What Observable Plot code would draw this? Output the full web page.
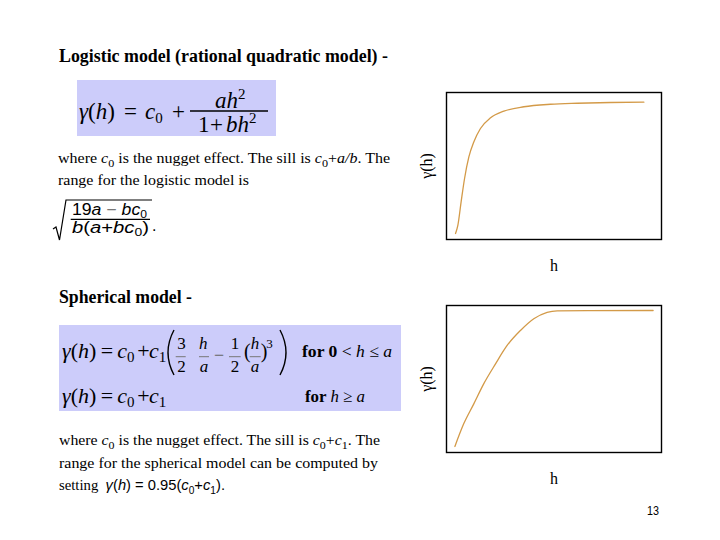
<!DOCTYPE html>
<html><head><meta charset="utf-8">
<script src="https://cdn.jsdelivr.net/npm/d3@7"></script>
<script src="https://cdn.jsdelivr.net/npm/@observablehq/plot@0.6"></script>
<style>
html,body{margin:0;padding:0;background:#fff;}
#page{position:relative;width:720px;height:540px;overflow:hidden;background:#fff;}
#slide{position:absolute;left:0;top:0;}
#slide text{white-space:pre;}
.chart{position:absolute;}
</style></head><body>
<div id="page"><svg id="slide" width="720" height="540"></svg>
<div class="chart" id="c1" style="left:410px;top:85px"></div>
<div class="chart" id="c2" style="left:410px;top:298px"></div>
</div>
<script>
// ---- data ----
const logisticH     = [4.2, 5.3, 6.8, 8.4, 10.4, 12.7, 15.8, 20.5, 26.7, 36.0, 48.4, 60.8, 76.3, 91.8];
const logisticGamma = [4.1, 9.8, 25.6, 41.5, 56.2, 66.4, 75.5, 82.8, 87.3, 90.3, 92.0, 92.7, 93.2, 93.4];
const sphericalH     = [3.9, 8.0, 12.7, 17.3, 22.8, 28.2, 34.4, 40.6, 46.8, 51.5, 96.1];
const sphericalGamma = [4.1, 19.5, 33.1, 46.7, 60.3, 72.8, 83.0, 91.0, 95.4, 96.4, 96.6];
const xDomain = [0, 100];
const yDomain = [0, 100];
const xLabel = "h";
const yLabel = "γ(h)";
const pageNumber = "13";

const SERIF = "'Liberation Serif','Times New Roman',serif";
const SANS = "'Liberation Sans',Arial,sans-serif";
const curveColor = "#d39a48";

// ---- slide text (typography) ----
const NS = "http://www.w3.org/2000/svg";
const slide = document.getElementById("slide");
function el(name, attrs, parent = slide) {
  const e = document.createElementNS(NS, name);
  for (const k in attrs) e.setAttribute(k, attrs[k]);
  parent.appendChild(e);
  return e;
}
function text(x, y, parts, opts = {}) {
  const t = el("text", {x, y, "font-family": opts.family || SERIF, "font-size": opts.size || 14.5,
    "font-weight": opts.weight || "normal", fill: opts.fill || "#000"});
  if (opts.width) { t.setAttribute("textLength", opts.width); t.setAttribute("lengthAdjust", "spacingAndGlyphs"); }
  let shift = 0;
  for (const p of parts) {
    const part = typeof p === "string" ? {t: p} : p;
    const s = el("tspan", {}, t);
    const target = part.dy || 0;
    if (target !== shift) { s.setAttribute("dy", target - shift); shift = target; }
    if (part.i) s.setAttribute("font-style", "italic");
    if (part.b) s.setAttribute("font-weight", "bold");
    if (part.size) s.setAttribute("font-size", part.size);
    if (part.family) s.setAttribute("font-family", part.family);
    if (part.fill) s.setAttribute("fill", part.fill);
    s.textContent = part.t;
  }
  return t;
}
function line(x1, y1, x2, y2, w = 1.2, c = "#000") { el("line", {x1, y1, x2, y2, stroke: c, "stroke-width": w}); }
function path(d, w = 1.3) { el("path", {d, fill: "none", stroke: "#000", "stroke-width": w}); }

// titles
text(59, 62, ["Logistic model (rational quadratic model) -"], {size: 18, weight: "bold", width: 329});
text(59, 303, ["Spherical model -"], {size: 18, weight: "bold", width: 133});

// formula box 1
el("rect", {x: 77, y: 80, width: 199, height: 56, fill: "#ccccfa"});
text(79, 119.3, [{t: "γ", i: 1}, "(", {t: "h", i: 1}, ")"], {size: 23});
text(124, 119.3, ["="], {size: 23});
text(145, 119.3, [{t: "c", i: 1}, {t: "0", size: 15, dy: 4}], {size: 23});
text(172, 119.3, ["+"], {size: 23});
line(190, 111, 268, 111, 1.3);
text(215, 108, [{t: "ah", i: 1}, {t: "2", size: 15, dy: -9}], {size: 23});
text(198, 131.7, ["1"], {size: 23});
text(210, 131.7, ["+"], {size: 23});
text(226, 131.7, [{t: "bh", i: 1}, {t: "2", size: 15, dy: -9}], {size: 23});

// text block 1
text(58, 162.5, ["where ", {t: "c", i: 1}, {t: "0", size: 11, dy: 4}, " is the nugget effect. The sill is ",
  {t: "c", i: 1}, {t: "0", size: 11, dy: 4}, "+", {t: "a/b", i: 1}, ". The"], {size: 14.5, width: 332});
text(58, 185, ["range for the logistic model is"], {size: 14.5, width: 191});

// range formula
path("M 53 229 L 56 227 L 59.5 240 L 66 200 L 152 200", 1.2);
text(72, 215, ["19", {t: "a", i: 1}, {t: " − ", fill: "#777"}, {t: "bc", i: 1}, {t: "0", size: 11, dy: 3}], {size: 16, family: SANS, width: 75});
line(70.7, 219.3, 150, 219.3, 1.2);
text(72, 233.3, [{t: "b", i: 1}, "(", {t: "a", i: 1}, "+", {t: "bc", i: 1}, {t: "0", size: 11, dy: 3}, ")"], {size: 16, family: SANS, width: 77});
text(152, 231, ["."], {size: 16, family: SANS});

// formula box 2
el("rect", {x: 59, y: 325, width: 342, height: 86, fill: "#ccccfa"});
for (const by of [358.3, 403.3]) {
  text(62, by, [{t: "γ", i: 1}, "(", {t: "h", i: 1}, ")"], {size: 22});
  text(100.7, by, ["="], {size: 22});
  text(117.3, by, [{t: "c", i: 1}, {t: "0", size: 15, dy: 4}], {size: 22});
  text(137.3, by, ["+"], {size: 22});
  text(149, by, [{t: "c", i: 1}, {t: "1", size: 15, dy: 4}], {size: 22});
}
path("M 174 330 Q 162 352.5 174 375", 1.4);
text(177.3, 349, ["3"], {size: 17}); line(175.7, 356.7, 185.7, 356.7, 1, "#777"); text(177.3, 371.7, ["2"], {size: 17});
text(199, 349, [{t: "h", i: 1}], {size: 17}); line(199, 356.7, 209, 356.7, 1, "#777"); text(199.7, 371.7, [{t: "a", i: 1}], {size: 17});
text(214, 361, ["−"], {size: 18, fill: "#666"});
text(230.7, 349, ["1"], {size: 17}); line(229, 356.7, 240.7, 356.7, 1, "#777"); text(230.7, 371.7, ["2"], {size: 17});
text(244, 358.3, ["("], {size: 20});
text(250.7, 349, [{t: "h", i: 1}], {size: 17}); line(249.7, 356.7, 260.7, 356.7, 1, "#777"); text(250.7, 371.7, [{t: "a", i: 1}], {size: 17});
text(260.7, 358.3, [")"], {size: 20});
text(266.3, 348.3, ["3"], {size: 13});
path("M 280 330 Q 292 352.5 280 375", 1.4);
text(302, 357, [{t: "for 0 ", b: 1}, "< ", {t: "h", i: 1}, " ≤ ", {t: "a", i: 1}], {size: 17, width: 90});
text(305, 402, [{t: "for ", b: 1}, {t: "h", i: 1}, " ≥ ", {t: "a", i: 1}], {size: 17, width: 60});

// text block 2
text(59, 445, ["where ", {t: "c", i: 1}, {t: "0", size: 11, dy: 4}, " is the nugget effect. The sill is ",
  {t: "c", i: 1}, {t: "0", size: 11, dy: 4}, "+", {t: "c", i: 1}, {t: "1", size: 11, dy: 4}, ". The"], {size: 14.5, width: 321});
text(59, 468.3, ["range for the spherical model can be computed by"], {size: 14.5, width: 319});
text(59, 490, ["setting  ", {t: "γ", i: 1, family: SANS}, {t: "(", family: SANS}, {t: "h", i: 1, family: SANS},
  {t: ") = 0.95(", family: SANS}, {t: "c", i: 1, family: SANS}, {t: "0", size: 10, dy: 4, family: SANS},
  {t: "+", family: SANS}, {t: "c", i: 1, family: SANS}, {t: "1", size: 10, dy: 4, family: SANS}, {t: ").", family: SANS}],
  {size: 14.5, width: 166});

// page number
text(647, 515, [pageNumber], {size: 13, family: SANS, width: 12});

// ---- charts ----
function chart(hs, gs) {
  const data = hs.map((h, i) => ({h, g: gs[i]}));
  return Plot.plot({
    width: 260, height: 190,
    marginLeft: 36, marginRight: 9, marginTop: 7, marginBottom: 36,
    x: {domain: xDomain, axis: null},
    y: {domain: yDomain, axis: null},
    style: {background: "transparent", overflow: "visible"},
    marks: [
      Plot.line(data, {x: "h", y: "g", stroke: curveColor, strokeWidth: 1.3, curve: "monotone-x"}),
      Plot.frame({stroke: "#000", strokeWidth: 1.4}),
      Plot.text([yLabel], {text: d => d, frameAnchor: "left", dx: -20, rotate: -90, textAnchor: "middle",
        lineAnchor: "middle", fontSize: 16, fontFamily: SERIF, fill: "#000"}),
      Plot.text([xLabel], {text: d => d, frameAnchor: "bottom", dy: 26, textAnchor: "middle",
        lineAnchor: "middle", fontSize: 16, fontFamily: SERIF, fill: "#000"})
    ]
  });
}
document.getElementById("c1").appendChild(chart(logisticH, logisticGamma));
document.getElementById("c2").appendChild(chart(sphericalH, sphericalGamma));
</script>
</body></html>
